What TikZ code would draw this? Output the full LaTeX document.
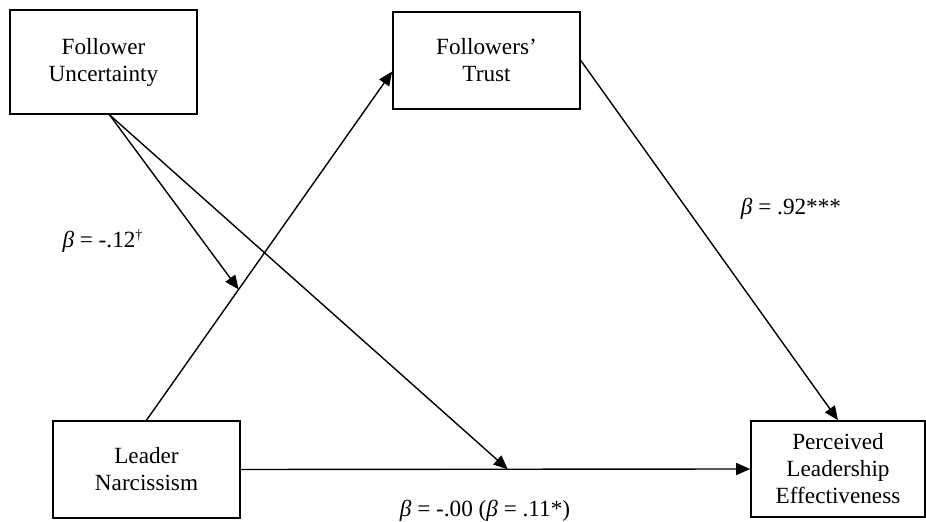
\documentclass[tikz,border=0pt]{standalone}
\usepackage{fontspec}
\setmainfont{Liberation Serif}
\usetikzlibrary{positioning, calc, arrows.meta}

\begin{document}
\begin{tikzpicture}[x=0.5pt,y=-0.5pt,
    varbox/.style={draw, line width=0.8pt, align=center, inner sep=0pt,
      font=\fontsize{11.6}{13.5}\selectfont},
    path/.style={line width=0.7pt, -{Triangle[length=7pt,width=6pt]}},
    coef/.style={font=\fontsize{11.6}{13}\selectfont}]
  \useasboundingbox (0,0) rectangle (926,522);
  % variables
  \node[varbox, minimum width=93.5pt, minimum height=52pt] (unc) at (103.5,62) {Follower\\Uncertainty};
  \node[varbox, minimum width=93.5pt, minimum height=48.5pt] (trust) at (486.5,60.5) {Followers’\\Trust};
  \node[varbox, minimum width=93.5pt, minimum height=48.5pt] (narc) at (146.5,469.5) {Leader\\Narcissism};
  \node[varbox, minimum width=87pt, minimum height=48pt] (perc) at (838,469) {Perceived\\Leadership\\Effectiveness};
  % paths
  \draw[path] (narc.north) -- ([yshift=-5.5pt]trust.west);
  \draw[path] (trust.east) -- (perc.north);
  \draw[path] (narc.east) -- (perc.west);
  \coordinate (m1) at ($(narc.north)!0.375!([yshift=-5.5pt]trust.west)$);
  \coordinate (m2) at ($(narc.east)!0.524!(perc.west)$);
  \draw[path] ([xshift=3pt]unc.south) -- (m1);
  \draw[path] ([xshift=3pt]unc.south) -- (m2);
  % coefficients
  \node[coef] at (103,241) {\textit{β} = -.12\textsuperscript{\scriptsize †}};
  \node[coef] at (791,209) {\textit{β} = .92***};
  \node[coef] at (485,511) {\textit{β} = -.00 (\textit{β} = .11*)};
\end{tikzpicture}
\end{document}
